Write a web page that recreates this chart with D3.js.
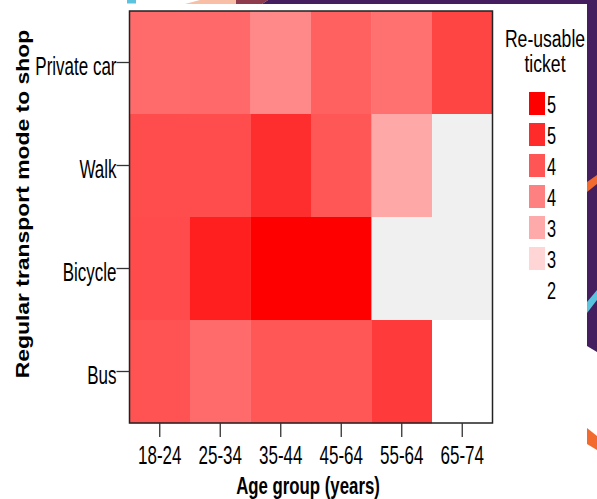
<!DOCTYPE html>
<html>
<head>
<meta charset="utf-8">
<script src="https://cdn.jsdelivr.net/npm/d3@7"></script>
<style>
  html, body { margin: 0; padding: 0; background: #ffffff; }
  svg { display: block; }
  text { font-family: "Liberation Sans", Arial, Helvetica, sans-serif; fill: #000; }
</style>
</head>
<body>
<script>
// ---- data ----
const ages = ["18-24", "25-34", "35-44", "45-64", "55-64", "65-74"];
const modes = ["Private car", "Walk", "Bicycle", "Bus"];
const privateCar = [3.74, 3.76, 3.40, 3.87, 3.68, 4.20];
const walk       = [4.09, 4.09, 4.46, 3.99, 3.02, null];
const bicycle    = [4.12, 4.64, 5.00, 5.00, null, null];
const bus        = [4.04, 3.75, 3.99, 3.99, 4.32, 2.00];
const legendValues = [5, 4.5, 4, 3.5, 3, 2.5, 2];
const legendLabels = ["5", "5", "4", "4", "3", "3", "2"];
const xTitle = "Age group (years)";
const yTitle = "Regular transport mode to shop";
const legendTitle = ["Re-usable", "ticket"];

const rows = [privateCar, walk, bicycle, bus];
const cells = [];
modes.forEach((m, i) => ages.forEach((a, j) => cells.push({mode: m, age: a, value: rows[i][j]})));

// ---- canvas ----
const W = 597, H = 499;
const SX = 0.68; // horizontal squeeze of the original picture's text
const svg = d3.select("body").append("svg").attr("width", W).attr("height", H);

// background decoration (slide frame)
const deco = svg.append("g");
deco.append("polygon").attr("points", "127,0 136,0 136,3.5 127,3.5").attr("fill", "#5bc3dd");
deco.append("polygon").attr("points", "200,0 236,0 236,4 185,4").attr("fill", "#f8bfa6");
deco.append("polygon").attr("points", "236,0 268,0 262,4 236,4").attr("fill", "#8e3b4e");
deco.append("polygon").attr("points", "268,0 597,0 597,352 587,346 587,4 262,4").attr("fill", "#441e5e");
deco.append("polygon").attr("points", "587,182 597,175 597,184 587,192").attr("fill", "#f26a2e");
deco.append("polygon").attr("points", "587,302 597,290 597,300 587,313").attr("fill", "#5bc3dd");
deco.append("polygon").attr("points", "587,428 597,436 597,450 587,444").attr("fill", "#f26a2e");

// ---- scales ----
const x = d3.scaleBand().domain(ages).range([129.5, 492.5]).padding(0);
const y = d3.scaleBand().domain(modes).range([11, 423]).padding(0);
const color = d3.scaleLinear().domain([2, 5]).range(["#ffffff", "#ff0000"]);
const naColor = "#f0f0f0";

// ---- cells ----
svg.append("g").selectAll("rect").data(cells).join("rect")
  .attr("x", d => x(d.age))
  .attr("y", d => y(d.mode))
  .attr("width", x.bandwidth() + 0.3)
  .attr("height", y.bandwidth() + 0.3)
  .attr("fill", d => d.value == null ? naColor : color(d.value));

// frame
svg.append("rect")
  .attr("x", x.range()[0]).attr("y", y.range()[0])
  .attr("width", x.range()[1] - x.range()[0])
  .attr("height", y.range()[1] - y.range()[0])
  .attr("fill", "none").attr("stroke", "#222").attr("stroke-width", 1.5);

// ---- axes ----
const fs = 25;
const xAxis = svg.append("g").attr("transform", `translate(0,${y.range()[1]})`)
  .call(d3.axisBottom(x).tickSize(14).tickSizeOuter(0).tickPadding(9));
xAxis.select(".domain").remove();
xAxis.selectAll(".tick line").attr("stroke", "#333").attr("stroke-width", 1.3);
xAxis.selectAll(".tick text")
  .attr("font-size", fs).attr("font-family", "Liberation Sans, Arial, sans-serif")
  .attr("fill", "#000")
  .attr("transform", `scale(${SX},1)`);

const yAxis = svg.append("g").attr("transform", `translate(${x.range()[0]},0)`)
  .call(d3.axisLeft(y).tickSize(13).tickSizeOuter(0).tickPadding(0));
yAxis.select(".domain").remove();
yAxis.selectAll(".tick line").attr("stroke", "#333").attr("stroke-width", 1.3);
yAxis.selectAll(".tick text")
  .attr("font-size", fs).attr("font-family", "Liberation Sans, Arial, sans-serif")
  .attr("fill", "#000")
  .attr("x", -13 / SX)
  .attr("dy", "0.36em")
  .attr("transform", `translate(0,3) scale(${SX},1)`);

// axis titles
svg.append("text")
  .attr("transform", `translate(${(x.range()[0] + x.range()[1]) / 2 - 3},494) scale(0.7,1)`)
  .attr("text-anchor", "middle").attr("font-size", 24).attr("font-weight", "bold")
  .text(xTitle);

svg.append("text")
  .attr("transform", `translate(29,204) rotate(-90) scale(1,0.82)`)
  .attr("text-anchor", "middle").attr("font-size", 22.9).attr("font-weight", "bold")
  .text(yTitle);

// ---- legend ----
const lg = svg.append("g");
legendTitle.forEach((t, i) => {
  lg.append("text")
    .attr("transform", `translate(545,${47 + i * 25}) scale(0.8,1.1)`)
    .attr("text-anchor", "middle").attr("font-size", 22).text(t);
});
const ly = d3.scaleBand().domain(legendValues.map((v, i) => i)).range([92, 92 + 31 * legendValues.length]);
lg.selectAll("rect.key").data(legendValues).join("rect").attr("class", "key")
  .attr("x", 529).attr("y", (d, i) => ly(i))
  .attr("width", 16).attr("height", 23)
  .attr("fill", d => color(d));
lg.selectAll("text.lab").data(legendLabels).join("text").attr("class", "lab")
  .attr("transform", (d, i) => `translate(547,${ly(i) + 21}) scale(${SX},1)`)
  .attr("font-size", 24).text(d => d);
</script>
</body>
</html>
